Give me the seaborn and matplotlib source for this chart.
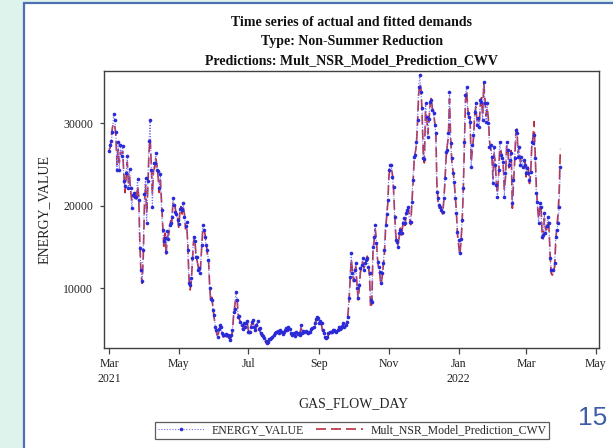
import pandas as pd
import matplotlib
matplotlib.use("Agg")
import matplotlib.pyplot as plt
import matplotlib.dates as mdates
from matplotlib.patches import Rectangle
import seaborn as sns

# Daily gas flow days starting on this date
start_day = "2021-03-01"

# Observed daily energy values
energy_value = [
    26600, 27400, 27800, 28900, 31100, 30400, 28900, 24300, 27700, 24300,
    27400, 26000, 27300, 23000, 22400, 24000, 26000, 22100, 24400, 22100,
    19700, 21300, 21500, 21100, 21100, 23300, 20700, 14900, 12200, 10900,
    14600, 21400, 23400, 17900, 23000, 27800, 30400,
    24300, 19800, 25150, 25150, 26440, 24340, 24200, 22120, 23860, 19500,
    17070, 15740, 16060, 14450, 16950, 15940, 17680, 17880, 18690, 20910,
    20100, 19300, 18970, 18280, 17800, 19580, 19700, 19500, 20300, 18700,
    17560, 18080, 14650, 10600, 10400, 11200, 13640, 16260, 15740, 13840,
    13840, 12220, 12430, 11820, 15250, 17680, 17070, 16260, 15250, 14650,
    13440, 10000, 8670, 8590, 7380, 6770, 5360, 4950, 4140, 5030,
    5560, 5360, 4550, 4350, 4350, 4430, 4350, 4350, 4140, 3740,
    4350, 4950, 7090, 7450, 9600, 8590, 6570, 6650, 5960, 5560,
    5070, 5760, 5360, 5760, 6080, 4670, 4750, 5360, 5960, 6160,
    5360, 4950, 5560, 6080, 5030, 5150, 4550, 4350, 4270, 3940,
    3660, 3420, 3540, 3820, 3880, 3940, 4140, 4350, 4550, 4650, 4750, 4830,
    4550, 4950, 4670, 4470, 4700, 4950, 5150, 4950, 5360, 5100, 4550, 4350, 4450,
    4550, 4270, 4670, 4500, 4550, 4350, 5560, 4630, 4870, 4750, 4850, 4750,
    4550, 4750, 4750, 5030, 5150, 5270, 5760, 6240, 6490, 6370, 5840,
    6080, 5760, 4950, 4550, 4140, 3940, 4140, 4550, 4650, 4750, 4750, 4950,
    4950, 4850, 4750, 4950, 5360, 5030, 5150, 5450, 5760, 5360, 5560, 5960, 6490, 8790,
    11420, 14240, 11820, 11010, 12220, 13030, 10000, 8790, 10410, 12430, 12800,
    13640, 12220, 13030, 13440, 13640, 12630, 11820, 8590, 8390, 15050, 16200,
    17680, 15460, 13230, 12630, 12020, 10610, 11820, 13030, 14650, 17680, 19000,
    20710, 24340, 24950, 24950, 23540, 22320, 18690, 15860, 15660, 15050,
    16670, 17070, 16670, 17880, 18500, 17880, 19090, 19500, 19900, 18080, 18080, 20500,
    23130, 25960, 26160, 27780, 30400, 34440, 35860, 33840, 31820, 25760,
    25640, 32420, 30810, 28380, 30500, 32630, 32830, 31620, 31210, 29800, 28790,
    21720, 20910, 20100, 19900, 19500, 19290, 21000, 23330, 26570, 26770, 28790,
    33840, 27580, 25760, 23940, 22930, 20910, 19090, 16870, 15860, 14240, 16000,
    18280, 22120, 27780, 33430, 34440, 31210, 30810, 30200, 24750, 27370,
    28590, 31410, 32420, 29800, 30600, 29600, 32830, 32630, 30400, 35050, 32420,
    30200, 32420, 30000, 27170, 27370, 25960, 22730, 27170, 25000, 22530, 21110,
    24340, 27780, 26160, 25760, 25350, 21110, 23940, 27780, 26770, 24950, 25500,
    26360, 20300, 23130, 25760, 29190, 28790, 25960, 27170, 24950, 25960,
    24750, 25560, 24950, 23940, 24550, 24000, 23130, 24140, 27780, 27580, 28590,
    25760, 21520, 20510, 17880, 20300, 19900, 16260, 16470, 19090, 16670, 17500,
    18690, 17880, 13640, 12220, 12220, 12220, 13030, 16260, 17070, 17880, 19900, 24750,
]

# Fitted values from the multiplicative NSR model
model_prediction = [
    26800, 27000, 28300, 29500, 30000, 29800, 28500, 25000, 26800, 25200,
    26500, 26300, 26600, 23800, 21600, 23400, 25300, 22800, 23500, 21800,
    20500, 20900, 21400, 21600, 20600, 22400, 21300, 15600, 11800, 10600,
    13800, 19800, 22600, 19100, 22100, 26400, 28200,
    25100, 21400, 24300, 24600, 25700, 24900, 23500, 21600, 23100, 20400,
    17600, 15100, 16700, 14000, 16300, 16400, 17100, 18200, 18100, 20400,
    20500, 19800, 18500, 18600, 17400, 19100, 19900, 19000, 19800, 19100,
    17200, 17700, 15300, 11200, 9800, 10800, 13200, 15600, 16200, 14300,
    13400, 12700, 12000, 12300, 14600, 16900, 17300, 16600, 15600, 14200,
    13800, 10700, 8400, 8900, 7700, 6400, 5600, 4700, 4000, 4700,
    5300, 5100, 4700, 4100, 4200, 4300, 4100, 4200, 3900, 3700,
    4100, 4700, 6600, 7800, 8800, 8900, 6900, 6300, 5800, 5300,
    5000, 5500, 5200, 5500, 5800, 4900, 4500, 5100, 5700, 5900,
    5300, 4800, 5300, 5800, 5200, 4900, 4400, 4200, 4100, 3800,
    3500, 3300, 3400, 3600, 3800, 3800, 4000, 4200, 4400, 4500, 4600, 4700,
    4500, 4700, 4500, 4300, 4600, 4700, 5000, 4800, 5100, 5000, 4500, 4200, 4300,
    4400, 4200, 4500, 4400, 4400, 4300, 5200, 4800, 4700, 4600, 4700, 4600,
    4400, 4600, 4600, 4800, 5000, 5100, 5500, 6000, 6300, 6200, 5600,
    5800, 5500, 4800, 4400, 4000, 3800, 4000, 4300, 4500, 4600, 4600, 4800,
    4800, 4700, 4600, 4800, 5100, 4900, 5000, 5300, 5500, 5200, 5400, 5800, 6600, 8300,
    11000, 13500, 12300, 10800, 11900, 12600, 10500, 8600, 9900, 11900, 12500,
    13200, 12500, 12700, 13300, 13900, 12900, 11400, 7600, 8100, 14300, 15800,
    17200, 15900, 13600, 12400, 11700, 10300, 11300, 12700, 14100, 17000, 18600,
    20300, 23600, 24600, 24500, 23900, 22000, 19000, 16500, 15300, 15400,
    16200, 17300, 16300, 17500, 18200, 17600, 18700, 19300, 19700, 18600, 17700, 20000,
    22500, 25300, 26400, 27300, 30000, 33500, 34900, 34300, 31200, 26500,
    25200, 31500, 31000, 28700, 30100, 32300, 33100, 31800, 31500, 30200, 29200,
    22500, 20500, 19700, 19800, 19300, 19000, 20600, 22800, 25800, 27300, 28300,
    33000, 28300, 25400, 24300, 23200, 21300, 19400, 16500, 15300, 14000, 15500,
    17800, 21500, 27000, 32800, 34000, 31800, 30400, 30600, 25300, 26800,
    28200, 30900, 32000, 30400, 30400, 29900, 32300, 33100, 30900, 34900, 33000,
    30900, 31900, 30600, 27900, 26900, 26400, 23300, 26300, 25400, 22800, 21500,
    23700, 27000, 26700, 25900, 25000, 21900, 23400, 27200, 27300, 24600, 25800,
    26700, 19700, 22700, 25200, 28700, 29300, 26400, 27100, 25300, 25500,
    25100, 25100, 25500, 23500, 24800, 24600, 22700, 23800, 27200, 28200, 30200,
    26300, 22300, 20000, 18400, 19700, 20200, 16900, 16000, 18500, 17200, 17100,
    18200, 17500, 14300, 11800, 11600, 12000, 12600, 15700, 17600, 18900, 21800, 26900,
]

tick_dates = ["2021-03-01", "2021-05-01", "2021-07-01", "2021-09-01",
              "2021-11-01", "2022-01-01", "2022-03-01", "2022-05-01"]
tick_labels = ["Mar\n2021", "May", "Jul", "Sep", "Nov", "Jan\n2022", "Mar", "May"]
y_ticks = [10000, 20000, 30000]

title_lines = ["Time series of actual and fitted demands",
               "Type: Non-Summer Reduction",
               "Predictions: Mult_NSR_Model_Prediction_CWV"]
series_names = ["ENERGY_VALUE", "Mult_NSR_Model_Prediction_CWV"]

df = pd.DataFrame({
    "GAS_FLOW_DAY": pd.date_range(start_day, periods=len(energy_value), freq="D"),
    "ENERGY_VALUE": energy_value,
    "PREDICTION": model_prediction,
})

sns.set_style("white")
plt.rcParams["font.family"] = ["Liberation Serif", "DejaVu Serif"]

W, H = 613, 448
fig = plt.figure(figsize=(W / 100, H / 100), dpi=100, facecolor="#dff3ed")

# White slide panel with a blue edge
panel = Rectangle((24 / W, -0.02), 1.0, (H - 3.5) / H + 0.02,
                  transform=fig.transFigure, facecolor="white",
                  edgecolor="#4f6fb5", linewidth=1.6, zorder=0)
fig.add_artist(panel)

ax = fig.add_axes([104.3 / W, 1 - 348 / H, (599.3 - 104.3) / W, (348 - 71) / H])
ax.set_facecolor("white")

sns.lineplot(data=df, x="GAS_FLOW_DAY", y="PREDICTION", ax=ax,
             color="#bb2c3e", linewidth=1.2, estimator=None, zorder=2)
red = ax.lines[-1]
red.set_dashes([6, 3])

sns.lineplot(data=df, x="GAS_FLOW_DAY", y="ENERGY_VALUE", ax=ax,
             color="#6f6ff5", linewidth=0.8, estimator=None, zorder=3,
             marker="o", markersize=2.6, markerfacecolor="#2a2ad8",
             markeredgewidth=0)
blue = ax.lines[-1]
blue.set_linestyle((0, (1, 1.5)))

x0 = pd.Timestamp(start_day) - pd.Timedelta(days=4.1)
x1 = pd.Timestamp("2022-05-01") + pd.Timedelta(days=3.1)
ax.set_xlim(mdates.date2num(x0), mdates.date2num(x1))
ax.set_ylim(2760, 36340)

ax.set_xticks([mdates.date2num(pd.Timestamp(d)) for d in tick_dates])
ax.set_xticklabels(tick_labels, fontsize=8.5, linespacing=1.3, color="#222222")
ax.set_yticks(y_ticks)
ax.set_yticklabels([str(v) for v in y_ticks], fontsize=8.5, color="#222222")
ax.tick_params(axis="x", direction="out", length=4.3, width=0.9, pad=3.0,
               color="#444444", bottom=True)
ax.tick_params(axis="y", direction="out", length=3.2, width=0.9, pad=5.0,
               color="#444444", left=True)
ax.set_xlabel("")
ax.set_ylabel("")
for sp in ax.spines.values():
    sp.set_visible(True)
    sp.set_color("#404040")
    sp.set_linewidth(1.0)

# Titles, axis labels
cx = (104.3 + 599.3) / 2 / W
for yy, line in zip([22.7, 41.7, 61.0], title_lines):
    fig.text(cx, 1 - yy / H, line, ha="center", va="center",
             fontsize=10, fontweight="bold", color="#111111")
fig.text(353 / W, 1 - 404 / H, "GAS_FLOW_DAY", ha="center", va="center",
         fontsize=10, color="#222222")
fig.text(44 / W, 1 - 210 / H, "ENERGY_VALUE", ha="center", va="center",
         rotation=90, fontsize=10, color="#222222")

leg = fig.legend([blue, red], series_names, loc="center",
                 bbox_to_anchor=(352 / W, 1 - 430.3 / H), ncol=2,
                 frameon=True, fancybox=False, fontsize=8.5,
                 handlelength=4.0, handletextpad=0.6, columnspacing=1.0,
                 borderpad=0.2, borderaxespad=0)
leg.get_frame().set_edgecolor("#333333")
leg.get_frame().set_linewidth(0.9)

fig.text(592.5 / W, 1 - 418 / H, "15", ha="center", va="center",
         fontsize=19, color="#3f5ea8", family="Liberation Sans")

fig.savefig("out.png", dpi=100, facecolor=fig.get_facecolor())
